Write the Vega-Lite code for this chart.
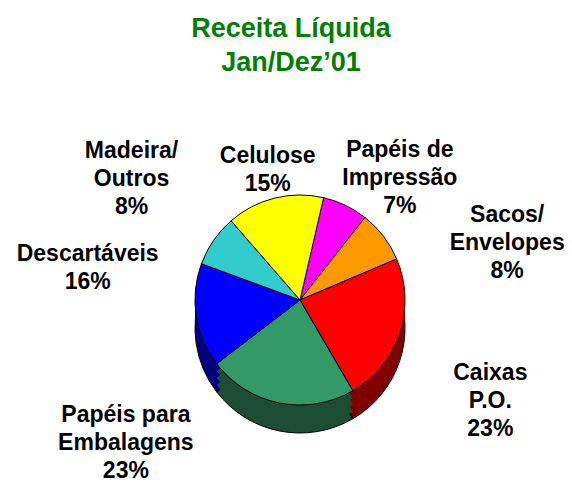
{
  "$schema": "https://vega.github.io/schema/vega-lite/v6.json",
  "autosize": "none",
  "width": 544,
  "height": 370,
  "padding": {"left": 28, "top": 115, "right": 0, "bottom": 0},
  "background": "white",
  "title": {
    "text": ["Receita Líquida", "Jan/Dez’01"],
    "color": "#008000",
    "font": "Liberation Sans",
    "fontSize": 27,
    "fontWeight": "bold",
    "lineHeight": 34,
    "anchor": "middle",
    "dx": -9,
    "offset": 38
  },
  "data": {
    "values": [
      {"categoria": "Papéis de Impressão", "valor": 7, "ordem": 1, "rotulo": ["Papéis de", "Impressão", "7%"]},
      {"categoria": "Sacos/Envelopes", "valor": 8, "ordem": 2, "rotulo": ["Sacos/", "Envelopes", "8%"]},
      {"categoria": "Caixas P.O.", "valor": 23, "ordem": 3, "rotulo": ["Caixas", "P.O.", "23%"]},
      {"categoria": "Papéis para Embalagens", "valor": 23, "ordem": 4, "rotulo": ["Papéis para", "Embalagens", "23%"]},
      {"categoria": "Descartáveis", "valor": 16, "ordem": 5, "rotulo": ["Descartáveis", "16%"]},
      {"categoria": "Madeira/Outros", "valor": 8, "ordem": 6, "rotulo": ["Madeira/", "Outros", "8%"]},
      {"categoria": "Celulose", "valor": 15, "ordem": 7, "rotulo": ["Celulose", "15%"]}
    ]
  },
  "encoding": {
    "theta": {"field": "valor", "type": "quantitative", "stack": true, "scale": {"range": [0.2269, 6.5101]}},
    "order": {"field": "ordem", "type": "quantitative"}
  },
  "layer": [
    {
      "mark": {"type": "arc", "outerRadius": 105, "yOffset": 28, "stroke": "black", "strokeWidth": 1},
      "encoding": {
        "color": {"field": "categoria", "type": "nominal", "legend": null,
          "scale": {"domain": ["Papéis de Impressão", "Sacos/Envelopes", "Caixas P.O.", "Papéis para Embalagens", "Descartáveis", "Madeira/Outros", "Celulose"],
                    "range": ["#800080", "#995c00", "#800000", "#1d4d35", "#000080", "#1a6666", "#808000"]}}
      }
    },
    {
      "mark": {"type": "arc", "outerRadius": 105, "yOffset": 21, "strokeWidth": 0},
      "encoding": {
        "color": {"field": "categoria", "type": "nominal", "legend": null,
          "scale": {"domain": ["Papéis de Impressão", "Sacos/Envelopes", "Caixas P.O.", "Papéis para Embalagens", "Descartáveis", "Madeira/Outros", "Celulose"],
                    "range": ["#800080", "#995c00", "#800000", "#1d4d35", "#000080", "#1a6666", "#808000"]}}
      }
    },
    {
      "mark": {"type": "arc", "outerRadius": 105, "yOffset": 14, "strokeWidth": 0},
      "encoding": {
        "color": {"field": "categoria", "type": "nominal", "legend": null,
          "scale": {"domain": ["Papéis de Impressão", "Sacos/Envelopes", "Caixas P.O.", "Papéis para Embalagens", "Descartáveis", "Madeira/Outros", "Celulose"],
                    "range": ["#800080", "#995c00", "#800000", "#1d4d35", "#000080", "#1a6666", "#808000"]}}
      }
    },
    {
      "mark": {"type": "arc", "outerRadius": 105, "yOffset": 7, "strokeWidth": 0},
      "encoding": {
        "color": {"field": "categoria", "type": "nominal", "legend": null,
          "scale": {"domain": ["Papéis de Impressão", "Sacos/Envelopes", "Caixas P.O.", "Papéis para Embalagens", "Descartáveis", "Madeira/Outros", "Celulose"],
                    "range": ["#800080", "#995c00", "#800000", "#1d4d35", "#000080", "#1a6666", "#808000"]}}
      }
    },
    {
      "mark": {"type": "arc", "outerRadius": 105, "stroke": "black", "strokeWidth": 1},
      "encoding": {
        "color": {"field": "categoria", "type": "nominal", "legend": null,
          "scale": {"domain": ["Papéis de Impressão", "Sacos/Envelopes", "Caixas P.O.", "Papéis para Embalagens", "Descartáveis", "Madeira/Outros", "Celulose"],
                    "range": ["#ff00ff", "#ff9900", "#ff0000", "#339966", "#0000ff", "#33cccc", "#ffff00"]}}
      }
    },
    {
      "mark": {"type": "text", "radius": 150, "font": "Liberation Sans", "fontSize": 23, "fontWeight": "bold", "lineHeight": 28, "align": "center", "baseline": "middle", "color": "black",
        "dx": {"expr": "[35, 88, 48, -145, -64, -45, 4][datum.ordem - 1]"},
        "dy": {"expr": "[-15, 6, 26, -32, -68, -64, 2][datum.ordem - 1]"}},
      "encoding": {
        "text": {"field": "rotulo"}
      }
    }
  ],
  "resolve": {"scale": {"color": "independent"}},
  "config": {"view": {"stroke": null}}
}
